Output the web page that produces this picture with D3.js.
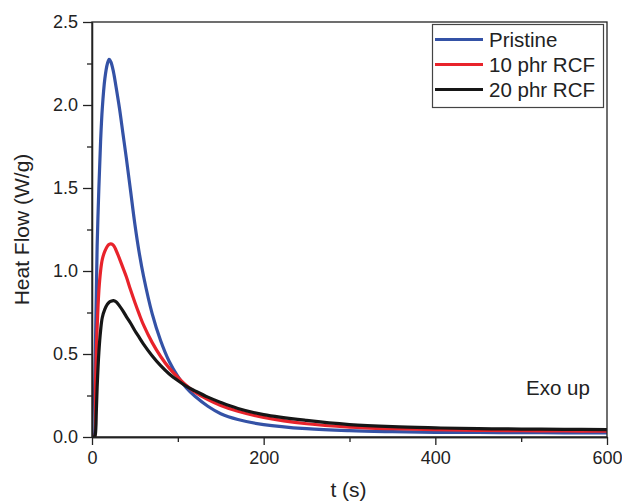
<!DOCTYPE html>
<html>
<head>
<meta charset="utf-8">
<script src="https://cdn.jsdelivr.net/npm/d3@7"></script>
<style>
  html, body { margin: 0; padding: 0; background: #fff; }
  svg { display: block; font-family: "Liberation Sans", Arial, sans-serif; }
</style>
</head>
<body>
<svg id="chart" width="622" height="504"></svg>
<script>
// ---- data ----
const timeS = [0, 2, 3, 4, 5, 6, 8, 10, 12, 15, 18, 20, 22, 25, 28, 32, 36, 40, 45, 50, 55, 60, 70, 80, 90, 100, 110, 120, 135, 150, 170, 200, 250, 300, 350, 400, 450, 500, 550, 600];
const pristine = [0, 0, 0.27, 0.55, 0.85, 1.15, 1.5, 1.78, 1.98, 2.16, 2.25, 2.275, 2.26, 2.2, 2.11, 1.98, 1.83, 1.68, 1.48, 1.28, 1.11, 0.97, 0.745, 0.58, 0.455, 0.365, 0.295, 0.245, 0.185, 0.14, 0.105, 0.075, 0.05, 0.038, 0.032, 0.028, 0.027, 0.026, 0.025, 0.025];
const rcf10 = [0, 0, 0, 0.3, 0.5, 0.66, 0.88, 1.0, 1.07, 1.12, 1.15, 1.16, 1.163, 1.155, 1.125, 1.075, 1.02, 0.965, 0.885, 0.81, 0.74, 0.675, 0.57, 0.485, 0.415, 0.36, 0.31, 0.27, 0.225, 0.19, 0.155, 0.118, 0.08, 0.06, 0.05, 0.044, 0.04, 0.038, 0.036, 0.035];
const rcf20 = [0, 0, 0, 0.02, 0.15, 0.3, 0.51, 0.64, 0.72, 0.77, 0.8, 0.812, 0.818, 0.822, 0.815, 0.79, 0.76, 0.725, 0.685, 0.64, 0.6, 0.56, 0.49, 0.43, 0.38, 0.34, 0.305, 0.278, 0.24, 0.208, 0.172, 0.135, 0.1, 0.075, 0.062, 0.055, 0.05, 0.048, 0.046, 0.045];
const seriesNames = ["Pristine", "10 phr RCF", "20 phr RCF"];
const seriesColors = ["#3452a6", "#e8232b", "#161616"];
const xTicks = [0, 200, 400, 600];
const xMinor = [100, 300, 500];
const yTicks = [0, 0.5, 1.0, 1.5, 2.0, 2.5];
const yMinor = [0.25, 0.75, 1.25, 1.75, 2.25];

const seriesValues = [pristine, rcf10, rcf20];

// ---- layout ----
const svg = d3.select("#chart");
const L = 92, R = 607, T = 22, B = 437;
const x = d3.scaleLinear().domain([0, 600]).range([L, R]);
const y = d3.scaleLinear().domain([0, 2.5]).range([B, T]);

svg.append("defs").append("clipPath").attr("id", "clip")
  .append("rect").attr("x", L).attr("y", T - 5).attr("width", R - L).attr("height", B - T + 5);

// curves
const line = d3.line().x(d => x(d[0])).y(d => y(d[1])).curve(d3.curveCatmullRom.alpha(0.5));
const plot = svg.append("g").attr("clip-path", "url(#clip)");
seriesValues.forEach((vals, i) => {
  const pts = timeS.map((t, j) => [t, vals[j]]);
  plot.append("path").datum(pts).attr("d", line)
    .attr("fill", "none").attr("stroke", seriesColors[i]).attr("stroke-width", 3.2)
    .attr("stroke-linejoin", "round").attr("stroke-linecap", "butt");
});

// frame
svg.append("rect").attr("x", L).attr("y", T).attr("width", R - L).attr("height", B - T)
  .attr("fill", "none").attr("stroke", "#222").attr("stroke-width", 1.3);

// axes
const fmtY = d3.format(".1f");
const xAxis = d3.axisBottom(x).tickValues(xTicks).tickSize(8).tickSizeOuter(0).tickPadding(6).tickFormat(d3.format("d"));
const gx = svg.append("g").attr("transform", `translate(0,${B})`).call(xAxis);
const xAxisMinor = d3.axisBottom(x).tickValues(xMinor).tickSize(5).tickSizeOuter(0).tickFormat("");
const gxm = svg.append("g").attr("transform", `translate(0,${B})`).call(xAxisMinor);

const yAxis = d3.axisLeft(y).tickValues(yTicks).tickSize(9).tickSizeOuter(0).tickPadding(5).tickFormat(fmtY);
const gy = svg.append("g").attr("transform", `translate(${L},0)`).call(yAxis);
const yAxisMinor = d3.axisLeft(y).tickValues(yMinor).tickSize(5).tickSizeOuter(0).tickFormat("");
const gym = svg.append("g").attr("transform", `translate(${L},0)`).call(yAxisMinor);

[gx, gxm, gy, gym].forEach(g => {
  g.select(".domain").attr("stroke", "#222").attr("stroke-width", 1.3);
  g.selectAll(".tick line").attr("stroke", "#222").attr("stroke-width", 1.3);
  g.selectAll(".tick text").attr("fill", "#222").style("font-size", "18px")
    .style("font-family", '"Liberation Sans", Arial, sans-serif');
});

// axis titles
svg.append("text").attr("x", (L + R) / 2 - 1).attr("y", 497).attr("text-anchor", "middle")
  .style("font-size", "21px").attr("fill", "#222").text("t (s)");
svg.append("text").attr("transform", `translate(29,${(T + B) / 2}) rotate(-90)`).attr("text-anchor", "middle")
  .style("font-size", "21px").attr("fill", "#222").text("Heat Flow (W/g)");

// legend
const lg = svg.append("g");
lg.append("rect").attr("x", 432.5).attr("y", 24.5).attr("width", 171).attr("height", 83)
  .attr("fill", "#fff").attr("stroke", "#444").attr("stroke-width", 1.2);
seriesNames.forEach((name, i) => {
  const yy = 39.5 + i * 25;
  lg.append("line").attr("x1", 435).attr("x2", 483).attr("y1", yy).attr("y2", yy)
    .attr("stroke", seriesColors[i]).attr("stroke-width", 3);
  lg.append("text").attr("x", 489).attr("y", yy + 7).style("font-size", "20.5px")
    .attr("fill", "#222").text(name);
});

// annotation
svg.append("text").attr("x", 526).attr("y", 395).style("font-size", "20.5px").attr("fill", "#222").text("Exo up");
</script>
</body>
</html>
